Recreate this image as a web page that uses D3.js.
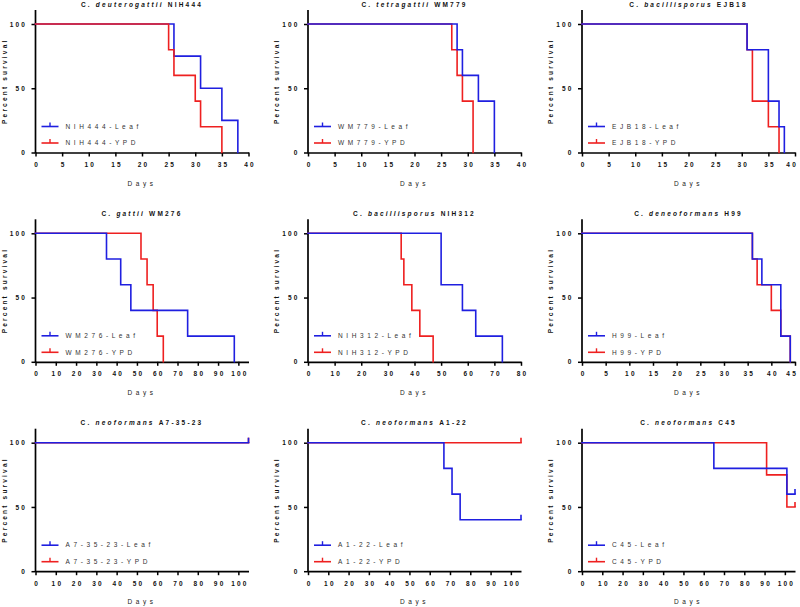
<!DOCTYPE html>
<html>
<head>
<meta charset="utf-8">
<script src="https://cdn.jsdelivr.net/npm/d3@7"></script>
<style>
  html, body { margin: 0; padding: 0; background: #fff; }
  svg { display: block; font-family: "Liberation Sans", Arial, sans-serif; }
</style>
</head>
<body>
<svg id="chart" width="800" height="607"></svg>
<script>
// ---------------- DATA ----------------
const species = ["deuterogattii", "tetragattii", "bacillisporus", "gattii", "bacillisporus", "deneoformans", "neoformans", "neoformans", "neoformans"];
const strains = ["NIH444", "WM779", "EJB18", "WM276", "NIH312", "H99", "A7-35-23", "A1-22", "C45"];
const xMax = [40, 40, 40, 105, 80, 45, 105, 105, 105];
const xTickMax = [40, 40, 40, 100, 80, 45, 100, 100, 100];
const xTickStep = [5, 5, 5, 10, 10, 5, 10, 10, 10];
const yTicks = [0, 50, 100];

// [day, percent survival] steps
const leaf = [
  [[0,100],[26,75],[31,50],[35,25],[38,0]],
  [[0,100],[28,80],[29,60],[32,40],[35,0]],
  [[0,100],[31,80],[35,40],[37,20],[38,0]],
  [[0,100],[35,80],[42,60],[47,40],[75,20],[98,0]],
  [[0,100],[50,60],[58,40],[63,20],[73,0]],
  [[0,100],[36,80],[38,60],[42,20],[44,0]],
  [[0,100],[105,100]],
  [[0,100],[67,80],[71,60],[75,40],[105,40]],
  [[0,100],[65,80],[101,60],[105,60]]
];
const ypd = [
  [[0,100],[25,80],[26,60],[30,40],[31,20],[35,0]],
  [[0,100],[27,80],[28,60],[29,40],[31,0]],
  [[0,100],[31,80],[32,40],[35,20],[37,0]],
  [[0,100],[52,80],[55,60],[58,40],[60,20],[63,0]],
  [[0,100],[35,80],[36,60],[39,40],[42,20],[47,0]],
  [[0,100],[36,80],[37,60],[40,40],[42,20],[44,0]],
  [[0,100],[105,100]],
  [[0,100],[105,100]],
  [[0,100],[91,75],[101,50],[105,50]]
];
// censored at end of follow-up?
const leafCensored = [false, false, false, false, false, false, true, true, true];
const ypdCensored  = [false, false, false, false, false, false, true, true, true];
// which series is drawn on top
const topSeries = ["YPD", "Leaf", "Leaf", "Leaf", "Leaf", "Leaf", "Leaf", "Leaf", "Leaf"];

// ---------------- LAYOUT ----------------
const colX0 = [35.5, 308, 582];
const rowY100 = [24, 233.3, 442.7];
const plotW = 213, plotH = 128.5, axisExtra = 14;
const BLUE = "#1f1fe0", RED = "#ee2020";
const FS = 6.5, LS = 2.2, LS_WIDE = 3.6;
const W = 800;

const svg = d3.select("#chart");

for (let i = 0; i < 9; i++) {
  const r = Math.floor(i / 3), c = i % 3;
  const x0 = colX0[c], y100 = rowY100[r], y0 = y100 + plotH;
  const x = d3.scaleLinear().domain([0, xMax[i]]).range([x0, x0 + plotW]);
  const y = d3.scaleLinear().domain([0, 100]).range([y0, y100]);
  const g = svg.append("g");

  // axes
  const xt = d3.range(0, xTickMax[i] + 0.001, xTickStep[i]);
  const xAxis = d3.axisBottom(x).tickValues(xt).tickSize(4).tickSizeOuter(0).tickPadding(6);
  const gx = g.append("g").attr("transform", `translate(0,${y0})`).call(xAxis);
  const yAxis = d3.axisLeft(y).tickValues(yTicks).tickSize(4).tickSizeOuter(0).tickPadding(5);
  const gy = g.append("g").attr("transform", `translate(${x0},0)`).call(yAxis);
  gy.select(".domain").remove();
  g.append("line").attr("x1", x0).attr("x2", x0).attr("y1", y0 + 0.8).attr("y2", y100 - axisExtra)
    .attr("stroke", "#000").attr("stroke-width", 1.7);
  [gx, gy].forEach(ax => {
    ax.selectAll(".domain").attr("stroke", "#000").attr("stroke-width", 1.7);
    ax.selectAll(".tick line").attr("stroke", "#000").attr("stroke-width", 1.5);
    ax.selectAll(".tick text").attr("fill", "#111").attr("font-size", FS).attr("font-weight", "bold")
      .attr("letter-spacing", LS).attr("font-family", "Liberation Sans, Arial, sans-serif");
  });
  gx.selectAll(".tick text").attr("dx", LS / 2);
  gy.selectAll(".tick text").attr("dx", LS * 0.3);
  // keep the last tick label inside the picture
  gx.selectAll(".tick").each(function(d) {
    if (x(d) + 6 > W) {
      d3.select(this).select("text").attr("text-anchor", "end").attr("dx", W - 2.5 - x(d));
    }
  });

  // labels
  g.append("text").attr("x", x0 + plotW / 2).attr("y", y0 + 33).attr("text-anchor", "middle")
    .attr("font-size", FS).attr("letter-spacing", LS_WIDE).attr("fill", "#222").text("Days");
  const yMid = (y0 + y100 - axisExtra) / 2;
  g.append("text").attr("transform", `translate(${x0 - 29},${yMid}) rotate(-90)`).attr("text-anchor", "middle")
    .attr("font-size", FS).attr("font-weight", "bold").attr("letter-spacing", LS).attr("fill", "#111").text("Percent survival");

  const t = g.append("text").attr("x", x0 + plotW / 2).attr("y", y100 - 17.5).attr("text-anchor", "middle")
    .attr("font-size", FS).attr("font-weight", "bold").attr("letter-spacing", 2.2).attr("fill", "#111");
  t.append("tspan").text("C. ");
  t.append("tspan").attr("font-style", "italic").text(species[i] + " ");
  t.append("tspan").text(strains[i]);

  // survival curves
  const line = d3.line().x(d => x(d[0])).y(d => y(d[1])).curve(d3.curveStepAfter);
  const series = [
    { name: "Leaf", data: leaf[i], color: BLUE, cens: leafCensored[i] },
    { name: "YPD", data: ypd[i], color: RED, cens: ypdCensored[i] }
  ];
  series.sort((a, b) => (a.name === topSeries[i]) - (b.name === topSeries[i]));
  series.forEach(s => {
    g.append("path").attr("d", line(s.data)).attr("fill", "none").attr("stroke", s.color)
      .attr("stroke-width", 1.6).attr("stroke-linejoin", "miter").attr("stroke-linecap", "square");
    if (s.cens) {
      const last = s.data[s.data.length - 1];
      g.append("line").attr("x1", x(last[0])).attr("x2", x(last[0]))
        .attr("y1", y(last[1])).attr("y2", y(last[1]) - 5)
        .attr("stroke", s.color).attr("stroke-width", 1.6);
    }
  });

  // legend
  const legend = [
    { label: strains[i] + "-Leaf", color: BLUE, yy: y0 - 26 },
    { label: strains[i] + "-YPD", color: RED, yy: y0 - 9.5 }
  ];
  legend.forEach(L => {
    g.append("line").attr("x1", x0 + 6).attr("x2", x0 + 23).attr("y1", L.yy).attr("y2", L.yy)
      .attr("stroke", L.color).attr("stroke-width", 1.6);
    g.append("line").attr("x1", x0 + 14.5).attr("x2", x0 + 14.5).attr("y1", L.yy).attr("y2", L.yy - 4)
      .attr("stroke", L.color).attr("stroke-width", 1.4);
    g.append("text").attr("x", x0 + 30).attr("y", L.yy).attr("dy", "0.35em")
      .attr("font-size", FS).attr("letter-spacing", LS_WIDE).attr("fill", "#333").text(L.label);
  });
}
</script>
</body>
</html>
